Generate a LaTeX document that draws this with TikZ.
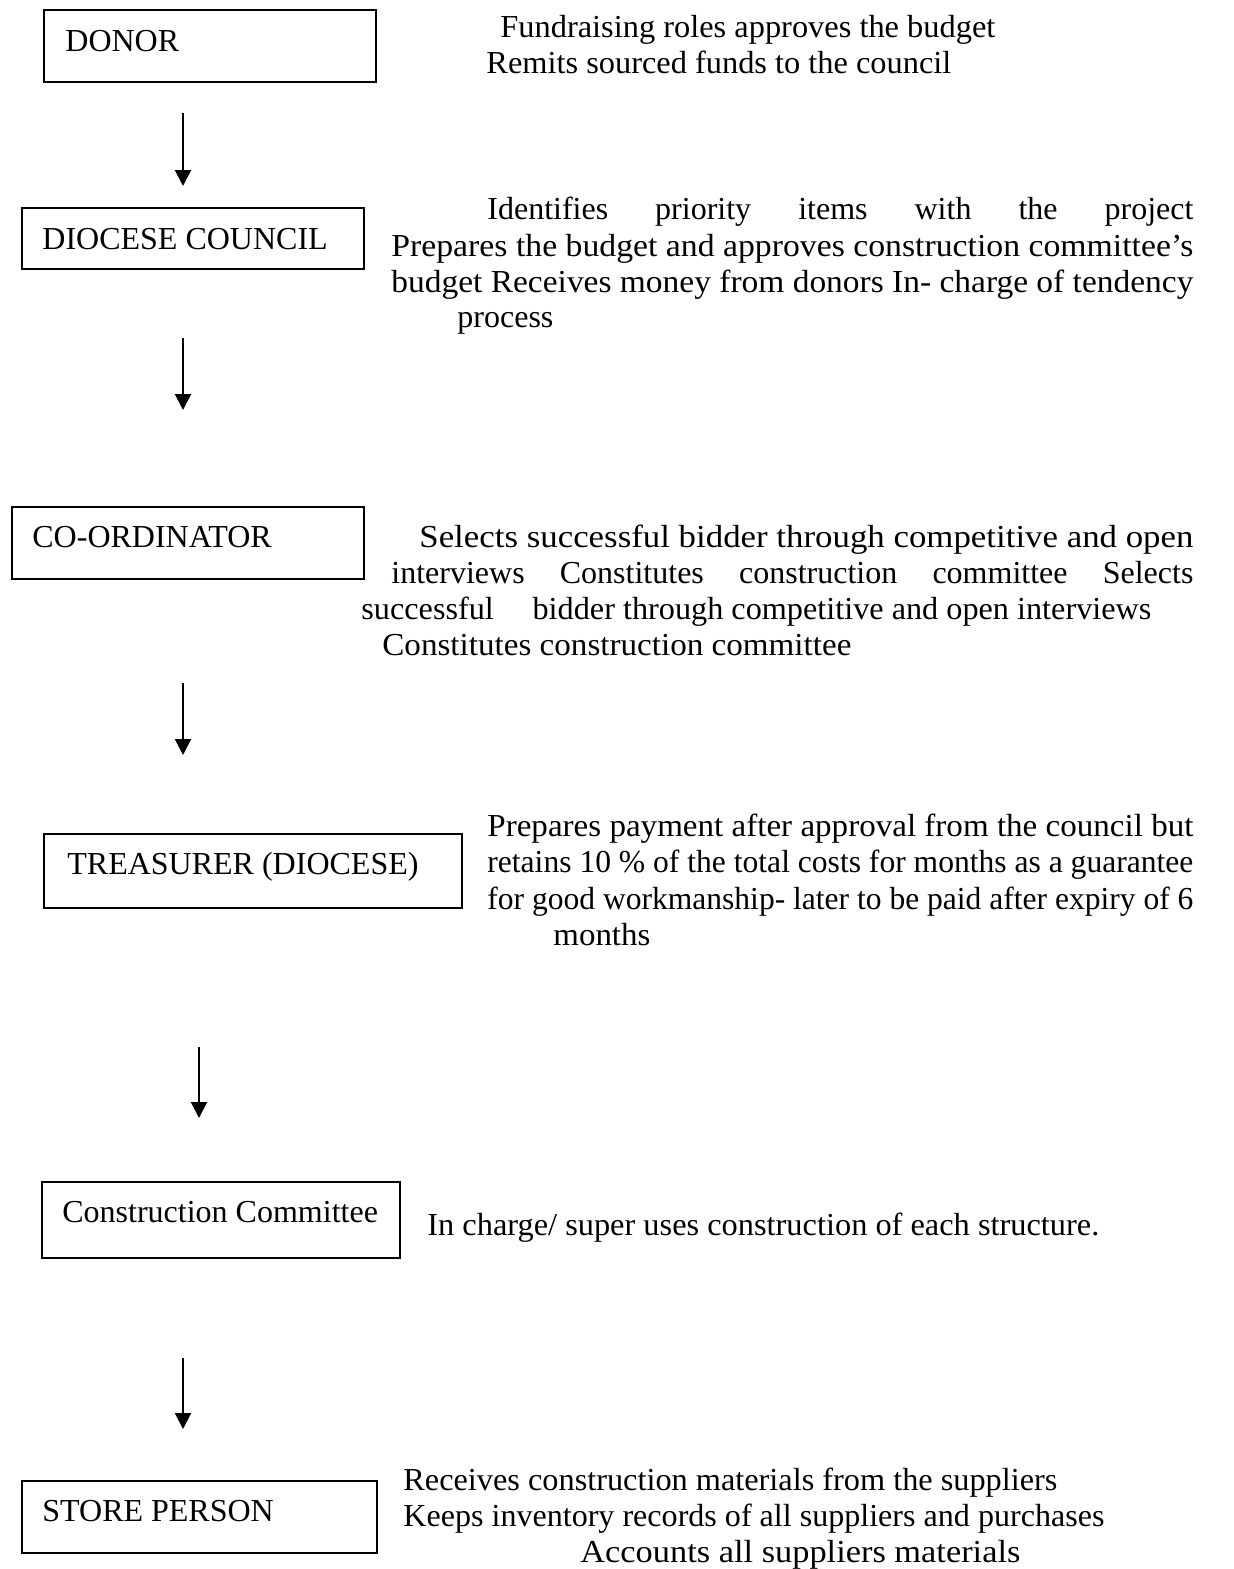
\documentclass[tikz,border=0pt]{standalone}
\usepackage{fontspec}
\setmainfont{Liberation Serif}
\usetikzlibrary{arrows.meta}
\newcommand{\fitw}[2]{\resizebox{#1}{\height}{#2}}
\newcommand{\jus}[2]{\makebox[#1][s]{#2}}
\tikzset{
  boxst/.style={draw=black, line width=1pt, inner sep=0pt, anchor=north west},
  boxtxt/.style={anchor=base west, inner sep=0pt, font=\fontsize{16pt}{18pt}\selectfont},
  desc/.style={anchor=base west, inner sep=0pt, font=\fontsize{16pt}{18pt}\selectfont},
  flow/.style={line width=1pt, -{Triangle[width=8pt,length=8pt]}}
}
\begin{document}
\begin{tikzpicture}[x=0.5pt,y=-0.5pt]
\fill[white] (0,0) rectangle (1233,1569);
\useasboundingbox (0,0) rectangle (1233,1569);

% boxes
\node[boxst, minimum width=166pt, minimum height=36pt] (donor) at (43,9) {};
\node[boxtxt] (donorT) at (65,51) {DONOR};
\node[boxst, minimum width=171pt, minimum height=30.5pt] (council) at (21,207) {};
\node[boxtxt] (councilT) at (42,249) {DIOCESE COUNCIL};
\node[boxst, minimum width=176pt, minimum height=36pt] (coord) at (11,506) {};
\node[boxtxt] (coordT) at (32,547) {CO-ORDINATOR};
\node[boxst, minimum width=209pt, minimum height=37pt] (treas) at (43,833) {};
\node[boxtxt] (treasT) at (67,874) {TREASURER (DIOCESE)};
\node[boxst, minimum width=179pt, minimum height=38pt] (cc) at (41,1181) {};
\node[boxtxt] (ccT) at (62,1222) {Construction Committee};
\node[boxst, minimum width=177.5pt, minimum height=36pt] (store) at (21,1480) {};
\node[boxtxt] (storeT) at (42,1521) {STORE PERSON};

% arrows
\coordinate (a1s) at (183,113); \coordinate (a1e) at (183,186);
\coordinate (a2s) at (183,338); \coordinate (a2e) at (183,410);
\coordinate (a3s) at (183,683); \coordinate (a3e) at (183,755);
\coordinate (a4s) at (199,1047); \coordinate (a4e) at (199,1118);
\coordinate (a5s) at (183,1358); \coordinate (a5e) at (183,1429);
\draw[flow] (a1s) -- (a1e);
\draw[flow] (a2s) -- (a2e);
\draw[flow] (a3s) -- (a3e);
\draw[flow] (a4s) -- (a4e);
\draw[flow] (a5s) -- (a5e);

% donor text
\node[desc] (d1) at (500,37) {\fitw{247.5pt}{Fundraising roles approves the budget}};
\node[desc] (d2) at (486,73) {\fitw{232.5pt}{Remits sourced funds to the council}};

% council text
\node[desc] (c1) at (487,219) {\jus{353pt}{Identifies priority items with the project}};
\node[desc] (c2) at (391,256) {\fitw{401pt}{Prepares the budget and approves construction committee’s}};
\node[desc] (c3) at (391,292) {\fitw{401pt}{budget Receives money from donors In- charge of tendency}};
\node[desc] (c4) at (457,327) {\fitw{48pt}{process}};

% coordinator text
\node[desc] (k1) at (419,547) {\fitw{387pt}{Selects successful bidder through competitive and open}};
\node[desc] (k2) at (391,583) {\jus{401pt}{interviews Constitutes construction committee Selects}};
\node[desc] (k3) at (361,619) {\fitw{395pt}{successful\hspace{1.2em}bidder through competitive and open interviews}};
\node[desc] (k4) at (382,655) {\fitw{234.5pt}{Constitutes construction committee}};

% treasurer text
\node[desc] (t1) at (487,836) {\fitw{353pt}{Prepares payment after approval from the council but}};
\node[desc] (t2) at (487,872) {\fitw{353pt}{retains 10 \% of the total costs for months as a guarantee}};
\node[desc] (t3) at (487,909) {\fitw{353pt}{for good workmanship- later to be paid after expiry of 6}};
\node[desc] (t4) at (553,945) {\fitw{48.5pt}{months}};

% construction committee text
\node[desc] (cc1) at (427,1235) {\fitw{336pt}{In charge/ super uses construction of each structure.}};

% store text
\node[desc] (s1) at (403,1490) {\fitw{327pt}{Receives construction materials from the suppliers}};
\node[desc] (s2) at (403,1526) {\fitw{350.5pt}{Keeps inventory records of all suppliers and purchases}};
\node[desc] (s3) at (580,1562) {\fitw{220pt}{Accounts all suppliers materials}};
\end{tikzpicture}
\end{document}
